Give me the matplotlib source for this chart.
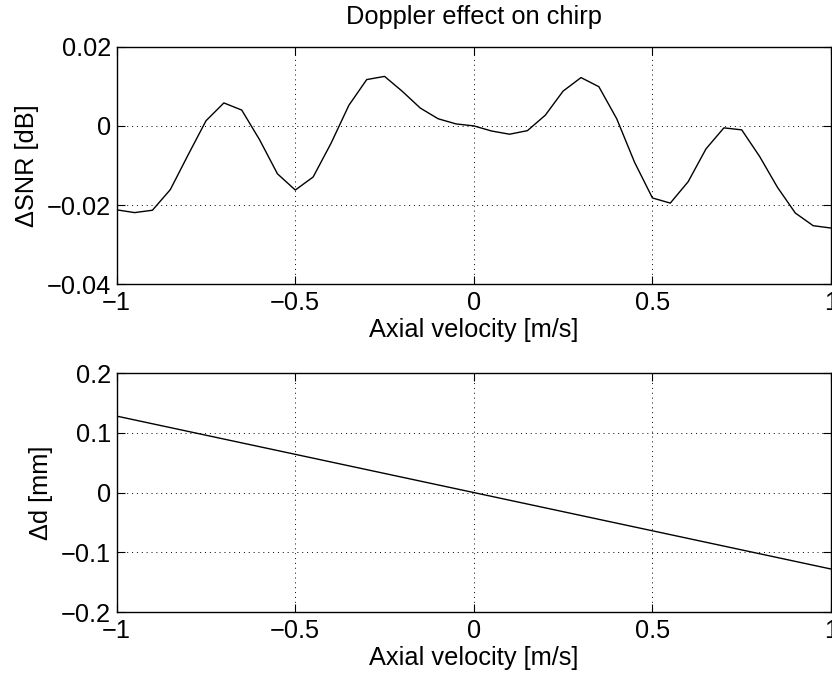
import matplotlib
matplotlib.use("Agg")
import matplotlib.pyplot as plt

plt.rcParams['font.family'] = ['Liberation Sans', 'DejaVu Sans']
plt.rcParams['axes.unicode_minus'] = True

velocity = [-1.00, -0.95, -0.90, -0.85, -0.80, -0.75, -0.70, -0.65, -0.60, -0.55,
            -0.50, -0.45, -0.40, -0.35, -0.30, -0.25, -0.20, -0.15, -0.10, -0.05,
            0.00, 0.05, 0.10, 0.15, 0.20, 0.25, 0.30, 0.35, 0.40, 0.45,
            0.50, 0.55, 0.60, 0.65, 0.70, 0.75, 0.80, 0.85, 0.90, 0.95, 1.00]
delta_snr = [-0.0212, -0.0219, -0.0213, -0.0161, -0.0073, 0.0013, 0.0058, 0.0040, -0.0035, -0.0121,
             -0.0162, -0.0129, -0.0044, 0.0052, 0.0117, 0.0125, 0.0087, 0.0045, 0.0018, 0.0005,
             0.0000, -0.0013, -0.0021, -0.0012, 0.0027, 0.0088, 0.0122, 0.0099, 0.0018, -0.0092,
             -0.0182, -0.0195, -0.0141, -0.0058, -0.0005, -0.0010, -0.0077, -0.0155, -0.0220, -0.0252,
             -0.0258]
delta_d = [0.1280, 0.1216, 0.1152, 0.1088, 0.1024, 0.0960, 0.0896, 0.0832, 0.0768, 0.0704,
           0.0640, 0.0576, 0.0512, 0.0448, 0.0384, 0.0320, 0.0256, 0.0192, 0.0128, 0.0064,
           0.0000, -0.0064, -0.0128, -0.0192, -0.0256, -0.0320, -0.0384, -0.0448, -0.0512, -0.0576,
           -0.0640, -0.0704, -0.0768, -0.0832, -0.0896, -0.0960, -0.1024, -0.1088, -0.1152, -0.1216,
           -0.1280]

x_ticks = [-1, -0.5, 0, 0.5, 1]
x_ticklabels = ['\u22121', '\u22120.5', '0', '0.5', '1']
snr_ticks = [-0.04, -0.02, 0, 0.02]
snr_ticklabels = ['\u22120.04', '\u22120.02', '0', '0.02']
d_ticks = [-0.2, -0.1, 0, 0.1, 0.2]
d_ticklabels = ['\u22120.2', '\u22120.1', '0', '0.1', '0.2']

FS = 18.3
fig = plt.figure(figsize=(8.32, 6.73), dpi=100)
ax1 = fig.add_axes([0.1403, 0.5776, 0.8585, 0.353])
ax2 = fig.add_axes([0.1403, 0.0906, 0.8585, 0.355])

def style(ax):
    ax.tick_params(axis='both', direction='in', length=5.5, width=0.8, top=True, right=True,
                   labelsize=FS)
    ax.tick_params(axis='x', pad=5)
    ax.tick_params(axis='y', pad=4)
    ax.grid(True, linestyle=(0, (1, 4)), color='black', linewidth=0.7)
    for s in ax.spines.values():
        s.set_linewidth(1.0)
    ax.set_xlim(-1, 1)
    ax.set_xticks(x_ticks)
    ax.set_xticklabels(x_ticklabels)
    ax.set_xlabel('Axial velocity [m/s]', fontsize=FS, labelpad=2)

ax1.plot(velocity, delta_snr, color='black', linewidth=1.0)
style(ax1)
ax1.set_ylim(-0.04, 0.02)
ax1.set_yticks(snr_ticks)
ax1.set_yticklabels(snr_ticklabels)
ax1.set_ylabel('\u0394SNR [dB]', fontsize=FS, labelpad=6)
ax1.set_title('Doppler effect on chirp', fontsize=FS, pad=16)

ax2.plot(velocity, delta_d, color='black', linewidth=1.0)
style(ax2)
ax2.set_ylim(-0.2, 0.2)
ax2.set_yticks(d_ticks)
ax2.set_yticklabels(d_ticklabels)
ax2.set_ylabel('\u0394d [mm]', fontsize=FS, labelpad=6)

fig.savefig('out.png', dpi=100)
